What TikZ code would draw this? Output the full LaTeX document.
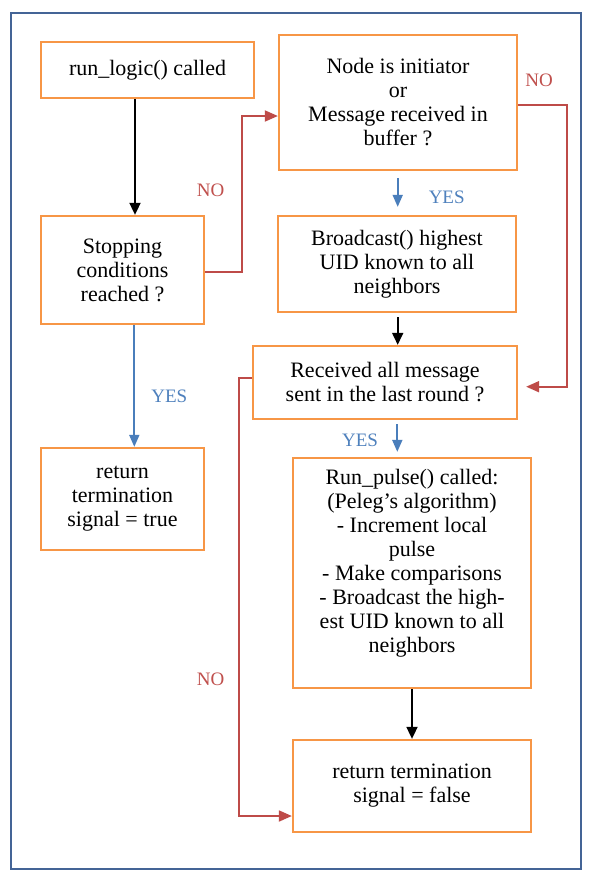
\documentclass[tikz,border=0pt]{standalone}
\usepackage{fontspec}
\setmainfont{Liberation Serif}
\usetikzlibrary{arrows.meta,calc}
\definecolor{boxorange}{RGB}{247,150,70}
\definecolor{framblue}{RGB}{68,100,150}
\definecolor{arrblue}{RGB}{74,126,187}
\definecolor{arrred}{RGB}{190,75,72}
\definecolor{lblred}{RGB}{192,80,77}
\definecolor{lblblue}{RGB}{79,129,189}
\begin{document}
\begin{tikzpicture}[x=1pt,y=-1pt,
  box/.style={draw=boxorange, line width=2.3pt, fill=white, inner sep=2pt, align=center,
    font=\fontsize{22}{24}\selectfont},
  blk/.style={draw=black, line width=1.8pt, -{Triangle[width=11pt,length=12pt]}},
  bluearr/.style={draw=arrblue, line width=1.8pt, -{Triangle[width=10pt,length=12pt]}},
  redarr/.style={draw=arrred, line width=1.8pt, -{Triangle[width=11pt,length=13pt]}},
  nolbl/.style={text=lblred, font=\fontsize{19}{22}\selectfont, inner sep=0pt},
  yeslbl/.style={text=lblblue, font=\fontsize{19}{22}\selectfont, inner sep=0pt}]
\useasboundingbox (0,0) rectangle (598,884);
\fill[white] (0,0) rectangle (598,884);
\draw[framblue, line width=2.3pt] (11,13) rectangle (581,869);

\node[box, minimum width=213pt, minimum height=56pt] (run) at (147.5,70) {run\_logic() called};
\node[box, minimum width=163pt, minimum height=108pt] (stop) at (122.5,270) {Stopping\\conditions\\reached ?};
\node[box, minimum width=163pt, minimum height=102pt] (true) at (122.5,499) {return\\termination\\signal = true};
\node[box, minimum width=238pt, minimum height=135pt] (init) at (398,102.5) {Node is initiator\\or\\Message received in\\buffer ?};
\node[box, minimum width=238pt, minimum height=96pt] (bcast) at (397,264) {Broadcast() highest\\UID known to all\\neighbors};
\node[box, minimum width=264pt, minimum height=73pt] (recv) at (385,382.5) {Received all message\\sent in the last round ?};
\node[box, minimum width=238pt, minimum height=230pt] (pulse) at (412,573) {Run\_pulse() called:\\(Peleg’s algorithm)\\- Increment local\\pulse\\- Make comparisons\\- Broadcast the high-\\est UID known to all\\neighbors\\};
\node[box, minimum width=238pt, minimum height=92pt] (false) at (412,786) {return termination\\signal = false};

% connectors
\draw[blk] (run.south -| 135,0) -- (stop.north -| 135,0);
\draw[bluearr] (stop.south -| 134.3,0) -- (true.north -| 134.3,0);
\draw[redarr] (stop.east |- 0,271.7) -| (241.7,116) -- (init.west |- 0,116);
\coordinate (nrin) at (566.7,105);
\coordinate (nrout) at (566.7,386.7);
\draw[redarr] (init.east |- nrin) -- (nrin) -- (nrout) -- ($(recv.east |- nrout)+(8,0)$);
\draw[bluearr] ($(init.south -| 397.7,0)+(0,7)$) -- ($(bcast.north -| 397.7,0)+(0,-8)$);
\draw[blk] ($(bcast.south -| 397.7,0)+(0,4)$) -- (recv.north -| 397.7,0);
\draw[bluearr] ($(recv.south -| 397.3,0)+(0,4)$) -- ($(pulse.north -| 397.3,0)+(0,-5)$);
\draw[redarr] (recv.west |- 0,378.3) -| (239.3,816) -- (false.west |- 0,816);
\draw[blk] (pulse.south) -- (false.north);

% labels
\node[nolbl] (no1) at (210.7,190.7) {NO};
\node[nolbl] (no2) at (539,80) {NO};
\node[nolbl] (no3) at (210.7,679.3) {NO};
\node[yeslbl] (yes1) at (446.7,197.7) {YES};
\node[yeslbl] (yes2) at (169.3,396.7) {YES};
\node[yeslbl] (yes3) at (360,440) {YES};
\end{tikzpicture}
\end{document}
